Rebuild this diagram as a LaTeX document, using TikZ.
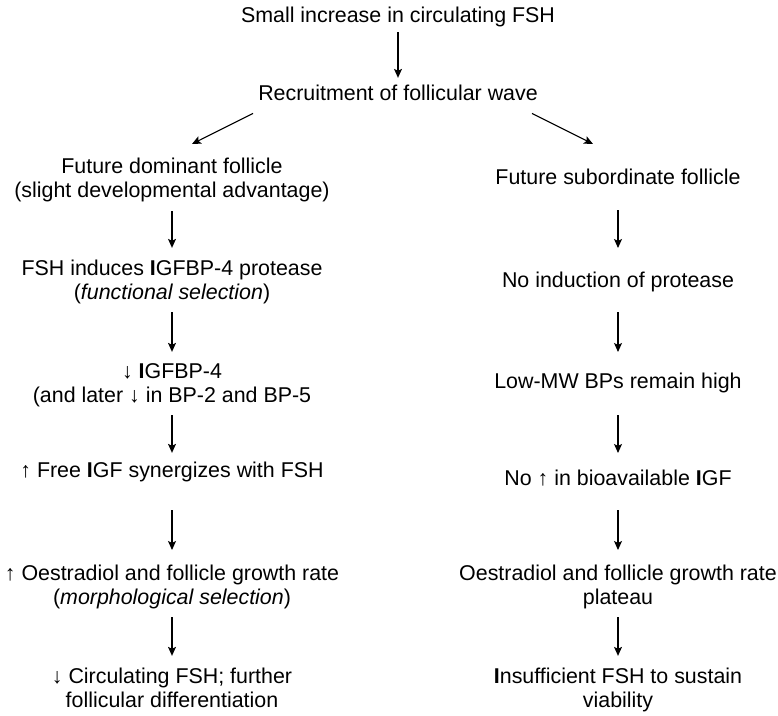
\documentclass[tikz,border=0pt]{standalone}
\usepackage{fontspec}
\setmainfont{Liberation Sans}
\usetikzlibrary{arrows.meta}
% line strut: keeps every text line 24.5pt tall
\newcommand{\ls}{\rule[-7.35pt]{0pt}{24.5pt}}
\begin{document}
\begin{tikzpicture}[x=1pt,y=-1pt,
  txt/.style={font=\fontsize{21.4}{24.5}\selectfont, align=center, inner sep=0pt, anchor=north},
  arr/.style={-{Stealth[length=9pt,width=8pt,inset=2pt]}, line width=1.1pt}]
\useasboundingbox (0,0) rectangle (778,715);

% top of the chart
\node[txt] (top) at (398,5.35) {\ls Small increase in circulating FSH};
\node[txt] (wave) at (398,82.85) {\ls Recruitment of follicular wave};

% dominant follicle branch
\node[txt] (d1) at (172,155.85) {\ls Future dominant follicle\\\ls (slight developmental advantage)};
\node[txt] (d2) at (172,257.85) {\ls FSH induces \textbf{I}GFBP-4 protease\\\ls (\textit{functional selection})};
\node[txt] (d3) at (172,360.85) {\ls ↓ \textbf{I}GFBP-4\\\ls (and later ↓ in BP-2 and BP-5};
\node[txt] (d4) at (172,459.85) {\ls ↑ Free \textbf{I}GF synergizes with FSH};
\node[txt] (d5) at (172,562.85) {\ls ↑ Oestradiol and follicle growth rate\\\ls (\textit{morphological selection})};
\node[txt] (d6) at (172,665.85) {\ls ↓ Circulating FSH; further\\\ls follicular differentiation};

% subordinate follicle branch
\node[txt] (s1) at (618,166.85) {\ls Future subordinate follicle};
\node[txt] (s2) at (618,269.85) {\ls No induction of protease};
\node[txt] (s3) at (618,370.85) {\ls Low-MW BPs remain high};
\node[txt] (s4) at (618,467.85) {\ls No ↑ in bioavailable \textbf{I}GF};
\node[txt] (s5) at (618,562.85) {\ls Oestradiol and follicle growth rate\\\ls plateau};
\node[txt] (s6) at (618,665.85) {\ls \textbf{I}nsufficient FSH to sustain\\\ls viability};

% connectors
\draw[arr, shorten <=2pt, shorten >=5pt] (top.south) -- (wave.north);
\draw[arr] ([xshift=-145pt,yshift=-5.65pt]wave.south) -- ([xshift=20pt,yshift=11.85pt]d1.north);
\draw[arr] ([xshift=134pt,yshift=-5.65pt]wave.south) -- ([xshift=-25pt,yshift=22.85pt]s1.north);

\draw[arr, shorten <=6pt, shorten >=10pt] (d1.south) -- (d2.north);
\draw[arr, shorten <=5pt, shorten >=9pt] (d2.south) -- (d3.north);
\draw[arr, shorten <=5pt, shorten >=7pt] (d3.south) -- (d4.north);
\draw[arr, shorten <=25.6pt, shorten >=12.85pt] (d4.south) -- (d5.north);
\draw[arr, shorten <=5pt, shorten >=10pt] (d5.south) -- (d6.north);

\draw[arr, shorten <=18.65pt, shorten >=21.85pt] (s1.south) -- (s2.north);
\draw[arr, shorten <=17.65pt, shorten >=18.85pt] (s2.south) -- (s3.north);
\draw[arr, shorten <=19.65pt, shorten >=14.85pt] (s3.south) -- (s4.north);
\draw[arr, shorten <=17.65pt, shorten >=12.85pt] (s4.south) -- (s5.north);
\draw[arr, shorten <=5pt, shorten >=10pt] (s5.south) -- (s6.north);
\end{tikzpicture}
\end{document}
